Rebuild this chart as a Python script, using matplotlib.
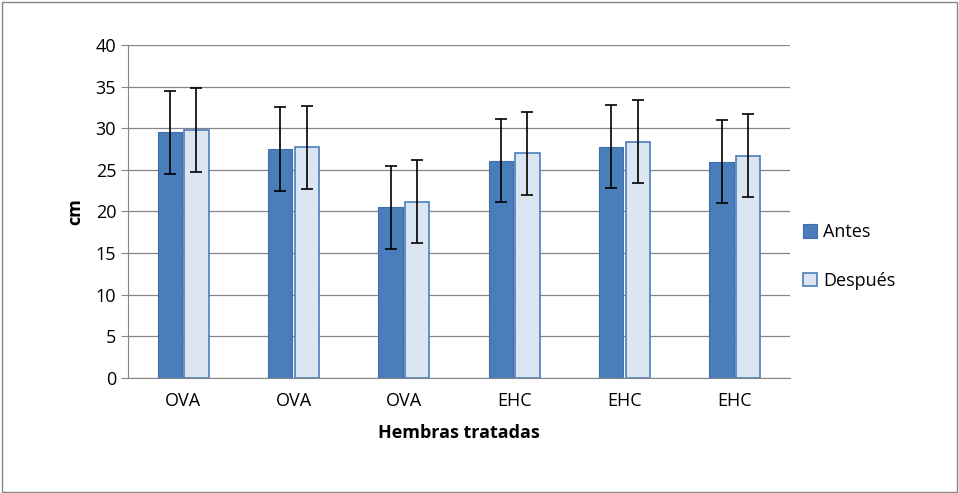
import numpy as np
import matplotlib
matplotlib.use("Agg")
import matplotlib.pyplot as plt
from matplotlib.patches import Rectangle

categories = ["OVA", "OVA", "OVA", "EHC", "EHC", "EHC"]
antes = [29.5, 27.5, 20.5, 26.1, 27.8, 26.0]
despues = [29.8, 27.7, 21.2, 27.0, 28.4, 26.7]
err_antes = [5, 5, 5, 5, 5, 5]
err_despues = [5, 5, 5, 5, 5, 5]

plt.rcParams["font.family"] = ["Open Sans", "DejaVu Sans"]
fig = plt.figure(figsize=(9.59, 4.93), dpi=100)
ax = fig.add_axes([128/959, 1-378/493, 662/959, 333/493])

x = np.arange(len(categories))
w = 0.22
ax.bar(x - w/2 - 0.01, antes, w, color="#4A7EBB", edgecolor="#3F6FA8", lw=0.8,
       yerr=err_antes, capsize=4, error_kw=dict(lw=1.2, capthick=1.2), label="Antes", zorder=3)
ax.bar(x + w/2 + 0.01, despues, w, color="#DCE6F2", edgecolor="#4A7EBB", lw=1.2,
       yerr=err_despues, capsize=4, error_kw=dict(lw=1.2, capthick=1.2), label="Después", zorder=3)

ax.set_ylim(0, 40)
ax.set_yticks(range(0, 41, 5))
ax.set_xlim(-0.5, len(categories) - 0.5)
ax.set_xticks(x)
ax.set_xticklabels(categories)
ax.grid(axis="y", color="#868686", lw=0.9, zorder=0)
for s in ["top", "right"]:
    ax.spines[s].set_visible(False)
for s in ["left", "bottom"]:
    ax.spines[s].set_color("#868686")
ax.tick_params(labelsize=13, color="#868686", length=5)
ax.tick_params(axis="x", length=0, pad=10)
ax.set_ylabel("cm", fontsize=13, fontweight="bold", labelpad=8)
ax.set_xlabel("Hembras tratadas", fontsize=13, fontweight="bold", labelpad=10)

ax.legend(loc="center left", bbox_to_anchor=(0.995, 0.365), frameon=False, fontsize=13,
          handlelength=0.8, handleheight=0.8, handletextpad=0.3, labelspacing=1.7)

fig.patches.append(Rectangle((0.002, 0.002), 0.996, 0.994, transform=fig.transFigure,
                             fill=False, edgecolor="#868686", lw=1))
fig.savefig("out.png", dpi=100)
